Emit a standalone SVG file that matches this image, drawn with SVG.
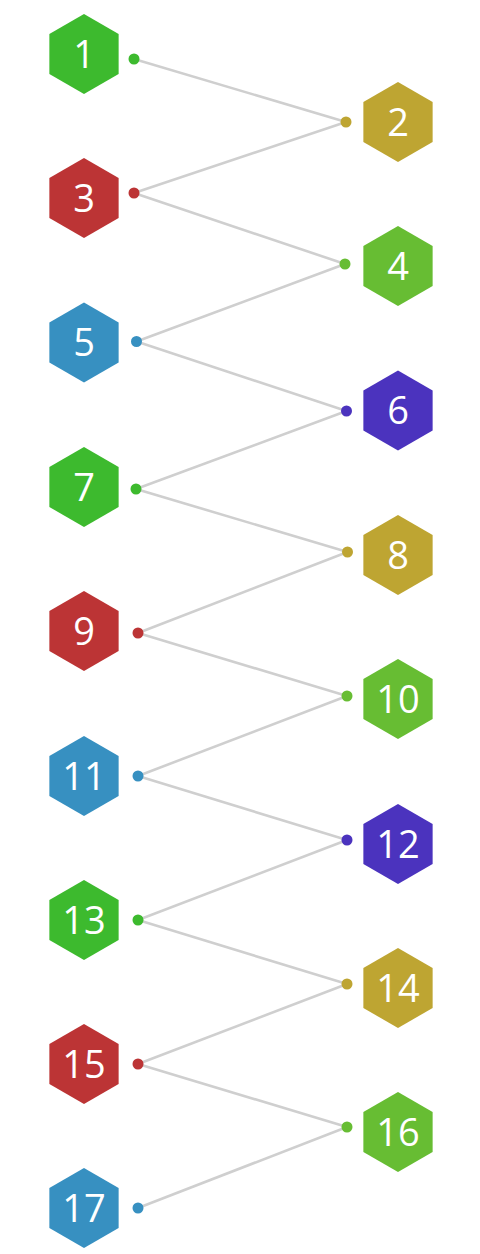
<svg xmlns="http://www.w3.org/2000/svg" width="480" height="1254" viewBox="0 0 480 1254">
<defs>
<style>
.hex{stroke:none}
.lbl{font-family:"Open Sans","Noto Sans","Liberation Sans",sans-serif;font-size:38px;fill:#fff;text-anchor:middle}
.edge{stroke:#cfcfcf;stroke-width:2.6;fill:none}
.g{fill:#3dba2e}.y{fill:#bea532}.r{fill:#bc3435}.lg{fill:#67bd33}.b{fill:#3790c1}.p{fill:#4b33be}
</style>
<polygon id="hx" points="0,-40 34.64,-20 34.64,20 0,40 -34.64,20 -34.64,-20"/>
</defs>
<rect width="480" height="1254" fill="#fff"/>
<g id="connectors">
<line class="edge" x1="134" y1="59" x2="346" y2="122"/>
<line class="edge" x1="134" y1="193" x2="346" y2="122"/>
<line class="edge" x1="134" y1="193" x2="345" y2="264"/>
<line class="edge" x1="136.5" y1="341.5" x2="345" y2="264"/>
<line class="edge" x1="136.5" y1="341.5" x2="346.5" y2="411"/>
<line class="edge" x1="136" y1="489" x2="346.5" y2="411"/>
<line class="edge" x1="136" y1="489" x2="347.5" y2="552"/>
<line class="edge" x1="138" y1="633" x2="347.5" y2="552"/>
<line class="edge" x1="138" y1="633" x2="347" y2="696"/>
<line class="edge" x1="138" y1="776" x2="347" y2="696"/>
<line class="edge" x1="138" y1="776" x2="347" y2="840"/>
<line class="edge" x1="138" y1="920" x2="347" y2="840"/>
<line class="edge" x1="138" y1="920" x2="347" y2="984"/>
<line class="edge" x1="138" y1="1064" x2="347" y2="984"/>
<line class="edge" x1="138" y1="1064" x2="347" y2="1127"/>
<line class="edge" x1="138" y1="1208" x2="347" y2="1127"/>
</g>
<g id="n1"><use href="#hx" class="g" x="84" y="54"/><circle class="g" cx="134" cy="59" r="5.5"/><text class="lbl" x="84" y="67.5">1</text></g>
<g id="n2"><use href="#hx" class="y" x="398" y="122"/><circle class="y" cx="346" cy="122" r="5.5"/><text class="lbl" x="398" y="135.5">2</text></g>
<g id="n3"><use href="#hx" class="r" x="84" y="198"/><circle class="r" cx="134" cy="193" r="5.5"/><text class="lbl" x="84" y="211.5">3</text></g>
<g id="n4"><use href="#hx" class="lg" x="398" y="266"/><circle class="lg" cx="345" cy="264" r="5.5"/><text class="lbl" x="398" y="279.5">4</text></g>
<g id="n5"><use href="#hx" class="b" x="84" y="342.5"/><circle class="b" cx="136.5" cy="341.5" r="5.5"/><text class="lbl" x="84" y="356">5</text></g>
<g id="n6"><use href="#hx" class="p" x="398" y="410.5"/><circle class="p" cx="346.5" cy="411" r="5.5"/><text class="lbl" x="398" y="424">6</text></g>
<g id="n7"><use href="#hx" class="g" x="84" y="487"/><circle class="g" cx="136" cy="489" r="5.5"/><text class="lbl" x="84" y="500.5">7</text></g>
<g id="n8"><use href="#hx" class="y" x="398" y="555"/><circle class="y" cx="347.5" cy="552" r="5.5"/><text class="lbl" x="398" y="568.5">8</text></g>
<g id="n9"><use href="#hx" class="r" x="84" y="631"/><circle class="r" cx="138" cy="633" r="5.5"/><text class="lbl" x="84" y="644.5">9</text></g>
<g id="n10"><use href="#hx" class="lg" x="398" y="699"/><circle class="lg" cx="347" cy="696" r="5.5"/><text class="lbl" x="398" y="712.5">10</text></g>
<g id="n11"><use href="#hx" class="b" x="84" y="776"/><circle class="b" cx="138" cy="776" r="5.5"/><text class="lbl" x="84" y="789.5">11</text></g>
<g id="n12"><use href="#hx" class="p" x="398" y="844"/><circle class="p" cx="347" cy="840" r="5.5"/><text class="lbl" x="398" y="857.5">12</text></g>
<g id="n13"><use href="#hx" class="g" x="84" y="920"/><circle class="g" cx="138" cy="920" r="5.5"/><text class="lbl" x="84" y="933.5">13</text></g>
<g id="n14"><use href="#hx" class="y" x="398" y="988"/><circle class="y" cx="347" cy="984" r="5.5"/><text class="lbl" x="398" y="1001.5">14</text></g>
<g id="n15"><use href="#hx" class="r" x="84" y="1064"/><circle class="r" cx="138" cy="1064" r="5.5"/><text class="lbl" x="84" y="1077.5">15</text></g>
<g id="n16"><use href="#hx" class="lg" x="398" y="1132"/><circle class="lg" cx="347" cy="1127" r="5.5"/><text class="lbl" x="398" y="1145.5">16</text></g>
<g id="n17"><use href="#hx" class="b" x="84" y="1208"/><circle class="b" cx="138" cy="1208" r="5.5"/><text class="lbl" x="84" y="1221.5">17</text></g>
</svg>
